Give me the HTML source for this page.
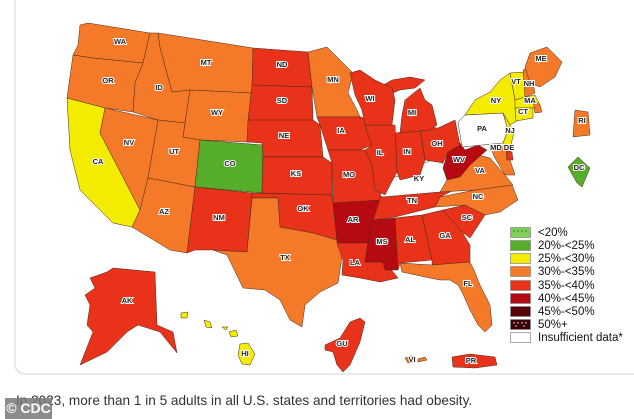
<!DOCTYPE html>
<html><head><meta charset="utf-8"><style>
html,body{margin:0;padding:0;background:#fff;width:634px;height:419px;overflow:hidden;font-family:"Liberation Sans",sans-serif}
svg{position:absolute;left:0;top:0}
.s{stroke:#4a2a1a;stroke-width:0.5;stroke-linejoin:round}
.a{fill:#f47a2a}.b{fill:#e8321a}.c{fill:#b50a12}.y{fill:#f4ec00}.g{fill:#55ad2a}.w{fill:#fff}.d{fill:#6a0010}
text.l{font-size:7.5px;font-weight:bold;fill:#222;stroke:#fff;stroke-width:2px;paint-order:stroke;text-anchor:middle;dominant-baseline:middle}
text.t{font-size:11.5px;fill:#111}
.cap{position:absolute;left:16px;top:393px;font-size:13.6px;color:#333}
.cdc{position:absolute;left:5px;top:398px;width:47px;height:21px;background:rgba(120,120,120,.85);color:#fff;font-size:14px;font-weight:bold;line-height:21px;text-align:center}
</style></head><body>
<svg width="634" height="419" viewBox="0 0 634 419">
<rect x="15" y="-10" width="640" height="384" rx="10" fill="none" stroke="#e2e2e2" stroke-width="1.5"/>
<g class="s">
<polygon class="a" points="80,25 88,23 150,33 143,63 93,58 73,55 78,45"/>
<polygon class="a" points="73,55 93,58 143,63 135,83 133,112 105,108 67,98"/>
<polygon class="y" points="67,98 105,108 100,133 140,210 132,227 113,223 80,190 70,150"/>
<polygon class="a" points="105,108 158,120 148,178 140,210 100,133"/>
<polygon class="a" points="150,33 158,33 160,47 172,92 190,90 185,123 158,120 133,112 135,83 143,63"/>
<polygon class="a" points="158,33 253,48 252,93 190,90 172,92 160,47"/>
<polygon class="a" points="190,90 252,93 247,142 200,140 183,137"/>
<polygon class="a" points="158,120 185,123 183,137 200,140 195,187 148,178"/>
<polygon class="g" points="200,140 263,145 262,193 195,187"/>
<polygon class="a" points="148,178 195,187 187,253 170,250 132,227 140,210"/>
<polygon class="b" points="195,187 252,193 247,252 213,250 195,250 187,253"/>
<polygon class="b" points="253,48 308,52 312,87 252,85"/>
<polygon class="b" points="252,85 312,87 313,120 320,125 248,120"/>
<polygon class="b" points="248,120 313,120 320,125 323,157 263,157 262,143 247,142"/>
<polygon class="b" points="263,157 323,157 332,163 332,195 262,193"/>
<polygon class="b" points="252,193 332,195 333,203 337,240 313,233 280,227 278,198 252,198"/>
<polygon class="a" points="252,198 278,198 280,227 313,233 337,240 342,257 338,283 320,292 305,305 302,327 290,320 280,300 265,290 243,288 227,255 213,250 247,252"/>
<polygon class="a" points="308,52 327,47 353,73 348,93 357,110 360,117 317,117 312,87"/>
<polygon class="b" points="317,117 362,117 368,125 372,145 360,150 328,150 320,125"/>
<polygon class="b" points="328,150 365,150 372,165 383,190 385,203 333,203 332,163"/>
<polygon class="c" points="333,203 380,200 372,225 368,243 337,243 337,240"/>
<polygon class="b" points="337,243 368,243 365,262 385,262 398,278 380,282 360,278 342,275 343,260"/>
<polygon class="c" points="373,220 395,218 398,270 385,270 383,262 365,262 368,243"/>
<polygon class="b" points="395,218 422,215 432,260 400,263 398,270"/>
<polygon class="b" points="422,215 443,210 462,232 470,245 470,262 432,265 432,260"/>
<polygon class="a" points="400,263 432,265 470,262 474,270 480,285 490,305 492,325 485,332 478,325 470,310 462,292 458,285 450,280 440,280 425,277 402,272"/>
<polygon class="b" points="443,210 465,205 485,215 470,238 462,232"/>
<polygon class="a" points="435,207 440,197 475,190 512,185 518,200 500,212 485,215 465,205"/>
<polygon class="b" points="380,197 440,192 460,187 440,197 435,207 395,217 373,220 378,205"/>
<polygon class="w" points="380,195 390,178 405,175 420,165 437,158 447,168 457,180 440,192 382,197"/>
<polygon class="a" points="447,180 465,170 478,155 490,158 505,175 513,185 475,190 440,192"/>
<polygon class="c" points="448,152 460,143 465,150 478,145 487,150 470,165 460,177 447,180 443,168"/>
<polygon class="b" points="420,127 438,128 455,120 460,145 448,152 443,163 425,160"/>
<polygon class="b" points="395,133 420,130 425,160 420,175 400,180 397,172"/>
<polygon class="b" points="365,125 395,125 397,172 390,185 385,195 375,190 372,165 365,150 372,145 368,135"/>
<polygon class="b" points="405,100 420,88 425,100 432,105 437,125 430,130 400,133 402,115"/>
<polygon class="b" points="378,88 392,80 410,77 425,80 415,88 400,90 388,95"/>
<polygon class="b" points="350,73 360,70 375,80 392,88 395,100 392,125 365,125 362,110 355,95"/>
<polygon class="w" points="458,122 465,115 503,113 508,130 503,143 462,147"/>
<polygon class="y" points="465,115 475,100 490,92 500,80 510,73 515,100 518,120 510,125 503,113"/>
<polygon class="y" points="503,113 510,125 514,132 511,145 505,150 503,143 508,130"/>
<polygon class="y" points="510,73 525,72 525,97 515,100"/>
<polygon class="a" points="523,70 530,67 535,93 525,97"/>
<polygon class="a" points="530,53 547,47 562,62 555,77 540,87 530,83 525,67"/>
<polygon class="y" points="515,100 525,97 535,95 540,105 533,108 515,108"/>
<polygon class="a" points="533,100 540,105 542,112 535,113"/>
<polygon class="y" points="515,108 533,108 533,118 516,121"/>
<polygon class="a" points="490,147 505,146 510,160 515,175 505,175 495,158"/>
<polygon class="b" points="506,150 512,152 513,160 507,160"/>
<polygon class="a" points="575,110 588,112 590,135 573,137"/>
<polygon class="g" points="568,167 578,157 590,168 582,187 577,183"/>
<polygon class="b" points="90,278 107,272 113,268 155,272 157,325 173,332 177,353 160,332 138,325 127,332 107,352 80,365 93,332 87,325 90,305 85,295 95,288"/>
<polygon class="y" points="181,313 188,312 187,318 181,318"/>
<polygon class="y" points="204,320 210,322 212,328 206,327"/>
<polygon class="y" points="222,327 228,327 226,330"/>
<polygon class="y" points="229,332 236,330 238,336 231,337"/>
<polygon class="y" points="240,344 248,343 255,354 250,365 242,364 238,355"/>
<polygon class="b" points="325,345 340,338 350,322 360,318 365,322 360,342 350,365 343,372 337,365 333,352 325,350"/>
<polygon class="a" points="405,358 412,356 416,361 408,363"/>
<polygon class="a" points="418,359 425,357 427,360 418,362"/>
<polygon class="b" points="452,357 470,354 495,357 497,365 475,368 453,367"/>
</g>
<g>
<text class="l" x="120" y="42">WA</text><text class="l" x="108" y="81">OR</text>
<text class="l" x="98" y="162">CA</text><text class="l" x="129" y="143">NV</text>
<text class="l" x="159" y="88">ID</text><text class="l" x="206" y="63">MT</text>
<text class="l" x="217" y="113">WY</text><text class="l" x="174" y="152">UT</text>
<text class="l" x="230" y="164">CO</text><text class="l" x="164" y="212">AZ</text>
<text class="l" x="219" y="218">NM</text><text class="l" x="282" y="65">ND</text>
<text class="l" x="282" y="101">SD</text><text class="l" x="284" y="136">NE</text>
<text class="l" x="296" y="174">KS</text><text class="l" x="303" y="209">OK</text>
<text class="l" x="285" y="258">TX</text><text class="l" x="333" y="80">MN</text>
<text class="l" x="341" y="131">IA</text><text class="l" x="349" y="175">MO</text>
<text class="l" x="353" y="220">AR</text><text class="l" x="355" y="263">LA</text>
<text class="l" x="382" y="242">MS</text><text class="l" x="410" y="240">AL</text>
<text class="l" x="445" y="236">GA</text><text class="l" x="468" y="284">FL</text>
<text class="l" x="467" y="218">SC</text><text class="l" x="478" y="197">NC</text>
<text class="l" x="412" y="201">TN</text><text class="l" x="419" y="179">KY</text>
<text class="l" x="480" y="171">VA</text><text class="l" x="459" y="160">WV</text>
<text class="l" x="437" y="144">OH</text><text class="l" x="407" y="152">IN</text>
<text class="l" x="380" y="153">IL</text><text class="l" x="412" y="113">MI</text>
<text class="l" x="370" y="99">WI</text><text class="l" x="482" y="129">PA</text>
<text class="l" x="496" y="101">NY</text><text class="l" x="510" y="131">NJ</text>
<text class="l" x="516" y="82">VT</text><text class="l" x="529" y="84">NH</text>
<text class="l" x="541" y="59">ME</text><text class="l" x="530" y="101">MA</text>
<text class="l" x="523" y="112">CT</text><text class="l" x="582" y="121">RI</text>
<text class="l" x="579" y="168">DC</text><text class="l" x="496" y="148">MD</text>
<text class="l" x="509" y="148">DE</text><text class="l" x="127" y="301">AK</text>
<text class="l" x="245" y="354">HI</text><text class="l" x="342" y="344">GU</text>
<text class="l" x="412" y="360">VI</text><text class="l" x="471" y="361">PR</text>
</g>
<g stroke="#888" stroke-width="0.7">
<rect x="510.5" y="227.5" width="20" height="10" fill="#7fd05a"/>
<rect x="510.5" y="240.5" width="20" height="10" fill="#55ad2a"/>
<rect x="510.5" y="253.5" width="20" height="10" fill="#f4ec00"/>
<rect x="510.5" y="266.5" width="20" height="10" fill="#f47a2a"/>
<rect x="510.5" y="280.5" width="20" height="10" fill="#e8321a"/>
<rect x="510.5" y="293.5" width="20" height="10" fill="#b50a12"/>
<rect x="510.5" y="306.5" width="20" height="10" fill="#5a0008"/>
<rect x="510.5" y="319.5" width="20" height="10" fill="#3a0006"/>
<rect x="510.5" y="332.5" width="20" height="10" fill="#fff"/>
</g>
<g fill="#2a6a10"><circle cx="514" cy="231" r=".7"/><circle cx="518" cy="231" r=".7"/><circle cx="522" cy="231" r=".7"/><circle cx="526" cy="231" r=".7"/></g>
<g fill="#fff"><circle cx="514" cy="323" r=".7"/><circle cx="518" cy="323" r=".7"/><circle cx="522" cy="323" r=".7"/><circle cx="526" cy="323" r=".7"/><circle cx="516" cy="326" r=".7"/><circle cx="524" cy="326" r=".7"/></g>
<text class="t" x="538" y="236">&lt;20%</text>
<text class="t" x="538" y="249">20%-&lt;25%</text>
<text class="t" x="538" y="262">25%-&lt;30%</text>
<text class="t" x="538" y="275">30%-&lt;35%</text>
<text class="t" x="538" y="289">35%-&lt;40%</text>
<text class="t" x="538" y="302">40%-&lt;45%</text>
<text class="t" x="538" y="315">45%-&lt;50%</text>
<text class="t" x="538" y="328">50%+</text>
<text class="t" x="538" y="341">Insufficient data*</text>
</svg>
<div class="cap">In 2023, more than 1 in 5 adults in all U.S. states and territories had obesity.</div>
<div class="cdc">© CDC</div>
</body></html>
